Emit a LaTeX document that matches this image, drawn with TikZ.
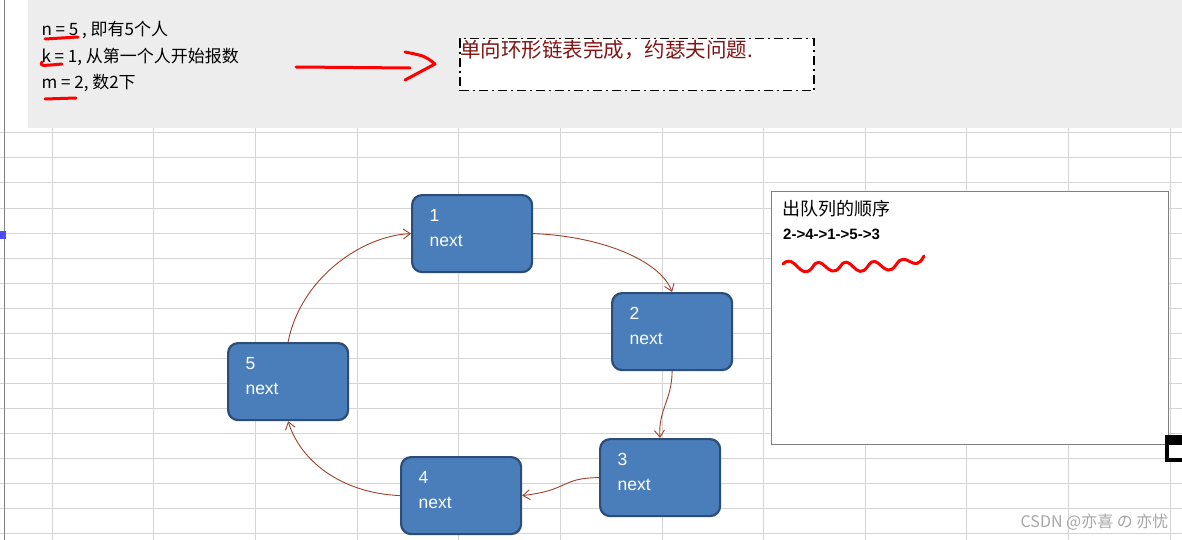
\documentclass[tikz,border=0pt]{standalone}
\usepackage{fontspec}
\setmainfont{Liberation Sans}
\newfontfamily\cjk{Noto Sans CJK SC}
\usetikzlibrary{arrows.meta}
\definecolor{nodefill}{HTML}{4A7EBB}
\definecolor{nodeedge}{HTML}{2B4D78}
\definecolor{arr}{HTML}{A0422A}
\definecolor{grid}{HTML}{D4D4D4}
\tikzset{
 nd/.style={draw=nodeedge,line width=2.2pt,fill=nodefill,rounded corners=10pt,minimum width=120pt,minimum height=77pt,anchor=north west,inner sep=0pt},
 lbl/.style={text=white,anchor=north west,font=\fontsize{17.5}{25}\selectfont,align=left},
 con/.style={draw=arr,line width=0.9pt,-{Straight Barb[length=7pt,width=10pt]}},
 redmark/.style={draw=red,line width=3pt,line cap=round,line join=round},
}
\begin{document}
\begin{tikzpicture}[x=1pt,y=-1pt]
\useasboundingbox (0,0) rectangle (1182,540);
\fill[white] (0,0) rectangle (1182,540);
% grid
\foreach \x in {52,153,255,357,458,560,662,763,865,966,1068,1170}
  \draw[grid,line width=1pt] (\x,128) -- (\x,540);
\foreach \y in {133,158,183,208,233,258,283,308,333,358,383,408,433,458,483,508,533}
  \draw[grid,line width=1pt] (0,\y) -- (1182,\y);
\fill[black!7] (28,0) rectangle (1182,128);
\draw[gray,line width=1pt] (4,0) -- (4,540);
\fill[blue!70] (0,231) rectangle (6,239);
% top texts
\node[anchor=west,font=\cjk\fontsize{17}{18}\selectfont] (tn) at (38,30) {n = 5 , 即有5个人};
\node[anchor=west,font=\cjk\fontsize{17}{18}\selectfont] (tk) at (38,57) {k = 1, 从第一个人开始报数};
\node[anchor=west,font=\cjk\fontsize{17}{18}\selectfont] (tm) at (38,83) {m = 2, 数2下};
\node[draw,dash pattern=on 9pt off 4pt on 2pt off 4pt,line width=1.5pt,fill=white,minimum width=354pt,minimum height=52pt,anchor=north west,inner sep=0pt] (box) at (459,38) {};
\node[anchor=north west,text={rgb,255:red,130;green,20;blue,20},font=\cjk\fontsize{20.5}{22}\selectfont,inner sep=0pt] (ttl) at (460,40) {单向环形链表完成，约瑟夫问题.};
% red marks
\draw[redmark] (45,39) -- (78,37);
\draw[redmark] (42,62) .. controls (40,66) .. (62,64);
\draw[redmark] (45,99) -- (76,98);
\draw[redmark] (296,67) -- (410,68);
\draw[redmark] (405,52) .. controls (425,56) .. (435,64) .. controls (420,72) .. (405,80);
% result box
\node[draw=gray,line width=1pt,fill=white,minimum width=397pt,minimum height=253pt,anchor=north west,inner sep=0pt] (res) at (771,191) {};
\node[anchor=north west,font=\cjk\fontsize{18}{20}\selectfont,inner sep=0pt] (rt) at (782,200) {出队列的顺序};
\node[anchor=north west,font=\bfseries\fontsize{15}{16}\selectfont,inner sep=0pt] (rs) at (783,229) {2->4->1->5->3};
\draw[redmark] (783,264) .. controls (795,252) and (800,282) .. (812,268) .. controls (822,250) and (828,282) .. (840,267) .. controls (850,250) and (856,284) .. (868,266) .. controls (878,250) and (884,282) .. (896,265) .. controls (906,248) and (914,276) .. (924,256);
\fill[black] (1165,435) rectangle (1182,462);
\fill[white] (1169,445) rectangle (1182,458);
% nodes
\node[nd] (n1) at (411,194) {};
\node[nd] (n2) at (611,292) {};
\node[nd] (n3) at (599,438) {};
\node[nd] (n4) at (400,456) {};
\node[nd] (n5) at (227,342) {};
\foreach \n/\t in {n1/1,n2/2,n3/3,n4/4,n5/5}
  \node[lbl] at ([xshift=15pt,yshift=-12pt]\n.north west) {\t\\next};
% connectors
\draw[con] (n1.east) .. controls (600,236) and (660,260) .. (n2.north);
\draw[con] (n2.south) .. controls (672,400) and (658,410) .. (n3.north -| 660,0);
\draw[con] (n3.west) .. controls (560,478) and (570,490) .. (n4.east);
\draw[con] (n4.west) .. controls (340,493) and (300,460) .. (n5.south);
\draw[con] (n5.north) .. controls (300,280) and (360,236) .. (n1.west);
% watermark
\node[anchor=east,text=gray!70,font=\cjk\fontsize{16}{18}\selectfont] (wm) at (1172,522) {CSDN @亦喜 の 亦忧};
\end{tikzpicture}
\end{document}
